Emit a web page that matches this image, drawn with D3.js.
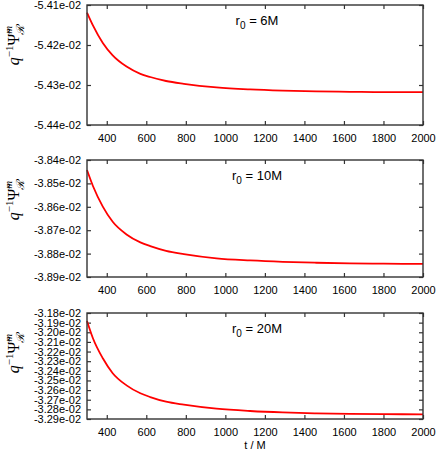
<!DOCTYPE html>
<html>
<head>
<meta charset="utf-8">
<script src="https://cdn.jsdelivr.net/npm/d3@7"></script>
<style>
  body { margin: 0; background: #fff; }
  svg { display: block; }
  .tick text { font-family: "Liberation Sans", Arial, sans-serif; font-size: 11px; fill: #000; }
</style>
</head>
<body>
<svg class="chart"></svg>
<script>
// tamaño total
var W = 436, H = 450;
var left = 87, right = 423;

// tiempo t/M
var tValues = [300, 330, 380, 430, 500, 570, 620, 700, 790, 955, 1125, 1290, 1460, 1630, 1800, 2000];

// q^-1 Psi_R^m para cada radio
var psi6  = [-5.4119e-2, -5.4151e-2, -5.4195e-2, -5.4226e-2, -5.4254e-2, -5.4272e-2, -5.4280e-2, -5.4290e-2,
             -5.4297e-2, -5.4306e-2, -5.4311e-2, -5.4314e-2, -5.4316e-2, -5.4317e-2, -5.4318e-2, -5.4318e-2];
var psi10 = [-3.8443e-2, -3.8511e-2, -3.8599e-2, -3.8664e-2, -3.8718e-2, -3.8752e-2, -3.8768e-2, -3.8788e-2,
             -3.8802e-2, -3.8820e-2, -3.8829e-2, -3.8835e-2, -3.8839e-2, -3.8842e-2, -3.8843e-2, -3.8844e-2];
var psi20 = [-3.1883e-2, -3.2062e-2, -3.2270e-2, -3.2425e-2, -3.2551e-2, -3.2633e-2, -3.2672e-2, -3.2720e-2,
             -3.2751e-2, -3.2793e-2, -3.2817e-2, -3.2832e-2, -3.2841e-2, -3.2847e-2, -3.2850e-2, -3.2851e-2];

// marcas de los ejes
var xTicks = [400, 600, 800, 1000, 1200, 1400, 1600, 1800, 2000];
var yTicks6  = [-5.41e-2, -5.42e-2, -5.43e-2, -5.44e-2];
var yTicks10 = [-3.84e-2, -3.85e-2, -3.86e-2, -3.87e-2, -3.88e-2, -3.89e-2];
var yTicks20 = [-3.18e-2, -3.19e-2, -3.20e-2, -3.21e-2, -3.22e-2, -3.23e-2,
                -3.24e-2, -3.25e-2, -3.26e-2, -3.27e-2, -3.28e-2, -3.29e-2];
var radii = ["6M", "10M", "20M"];

var panels = [
  {values: psi6,  ticks: yTicks6,  r: radii[0], top: 5,   bottom: 125},
  {values: psi10, ticks: yTicks10, r: radii[1], top: 160, bottom: 277},
  {values: psi20, ticks: yTicks20, r: radii[2], top: 313, bottom: 419}
];

var svg = d3.select(".chart").attr("width", W).attr("height", H);

var x = d3.scaleLinear().domain([300, 2000]).range([left, right]);
var fmt = function(v) { return (v * 100).toFixed(2) + "e-02"; };

panels.forEach(function(p, k) {
  var y = d3.scaleLinear()
      .domain([p.ticks[p.ticks.length - 1], p.ticks[0]])
      .range([p.bottom, p.top]);
  var g = svg.append("g");

  // Eje y (izquierda y derecha, marcas hacia adentro)
  g.append("g")
      .attr("transform", "translate(" + left + ",0)")
      .call(d3.axisLeft(y).tickValues(p.ticks).tickFormat(fmt).tickSizeInner(-4).tickSizeOuter(0).tickPadding(6))
      .call(function(a) { a.select(".domain").remove(); });
  g.append("g")
      .attr("transform", "translate(" + right + ",0)")
      .call(d3.axisRight(y).tickValues(p.ticks).tickFormat("").tickSizeInner(-4).tickSizeOuter(0))
      .call(function(a) { a.select(".domain").remove(); });

  // Eje x (abajo y arriba)
  g.append("g")
      .attr("transform", "translate(0," + p.bottom + ")")
      .call(d3.axisBottom(x).tickValues(xTicks).tickFormat(d3.format("d")).tickSizeInner(-4).tickSizeOuter(0).tickPadding(9))
      .call(function(a) { a.select(".domain").remove(); });
  g.append("g")
      .attr("transform", "translate(0," + p.top + ")")
      .call(d3.axisTop(x).tickValues(xTicks).tickFormat("").tickSizeInner(-4).tickSizeOuter(0))
      .call(function(a) { a.select(".domain").remove(); });

  g.selectAll(".tick line").attr("stroke", "#333").attr("stroke-width", 1.2);

  // curva
  var line = d3.line()
      .x(function(d, i) { return x(tValues[i]); })
      .y(function(d) { return y(d); })
      .curve(d3.curveMonotoneX);
  g.append("path")
      .datum(p.values)
      .attr("fill", "none")
      .attr("stroke", "#ff0000")
      .attr("stroke-width", 1.8)
      .attr("d", line);

  // marco
  g.append("rect")
      .attr("x", left).attr("y", p.top)
      .attr("width", right - left).attr("height", p.bottom - p.top)
      .attr("fill", "none").attr("stroke", "#333").attr("stroke-width", 1.4);

  // etiqueta r0
  var lab = g.append("text")
      .attr("x", 257).attr("y", p.top + 20)
      .attr("text-anchor", "middle")
      .style("font-family", "Liberation Sans, Arial, sans-serif")
      .style("font-size", "13px");
  lab.append("tspan").text("r");
  lab.append("tspan").attr("dy", 4).style("font-size", "10px").text("0");
  lab.append("tspan").attr("dy", -4).text(" = " + p.r);

  // etiqueta eje y
  var cy = p.top + 40;
  var yl = g.append("text")
      .attr("transform", "translate(19," + cy + ") rotate(-90)")
      .attr("text-anchor", "middle")
      .style("font-family", "Liberation Serif, DejaVu Serif, serif")
      .style("font-size", "16px");
  yl.append("tspan").style("font-style", "italic").text("q");
  yl.append("tspan").attr("dy", -6).style("font-size", "11px").text("\u22121");
  yl.append("tspan").attr("dy", 6).text("\u03A8\u0303");
  yl.append("tspan").attr("dy", -7).style("font-size", "11px").style("font-style", "italic").text("m");
  yl.append("tspan").attr("dx", -9).attr("dy", 12).style("font-size", "11px").style("font-style", "italic").text("\u211B");
});

// Etiqueta eje x
svg.append("text")
    .attr("x", 255).attr("y", 449)
    .attr("text-anchor", "middle")
    .style("font-family", "Liberation Sans, Arial, sans-serif")
    .style("font-size", "11px")
    .text("t / M");
</script>
</body>
</html>
